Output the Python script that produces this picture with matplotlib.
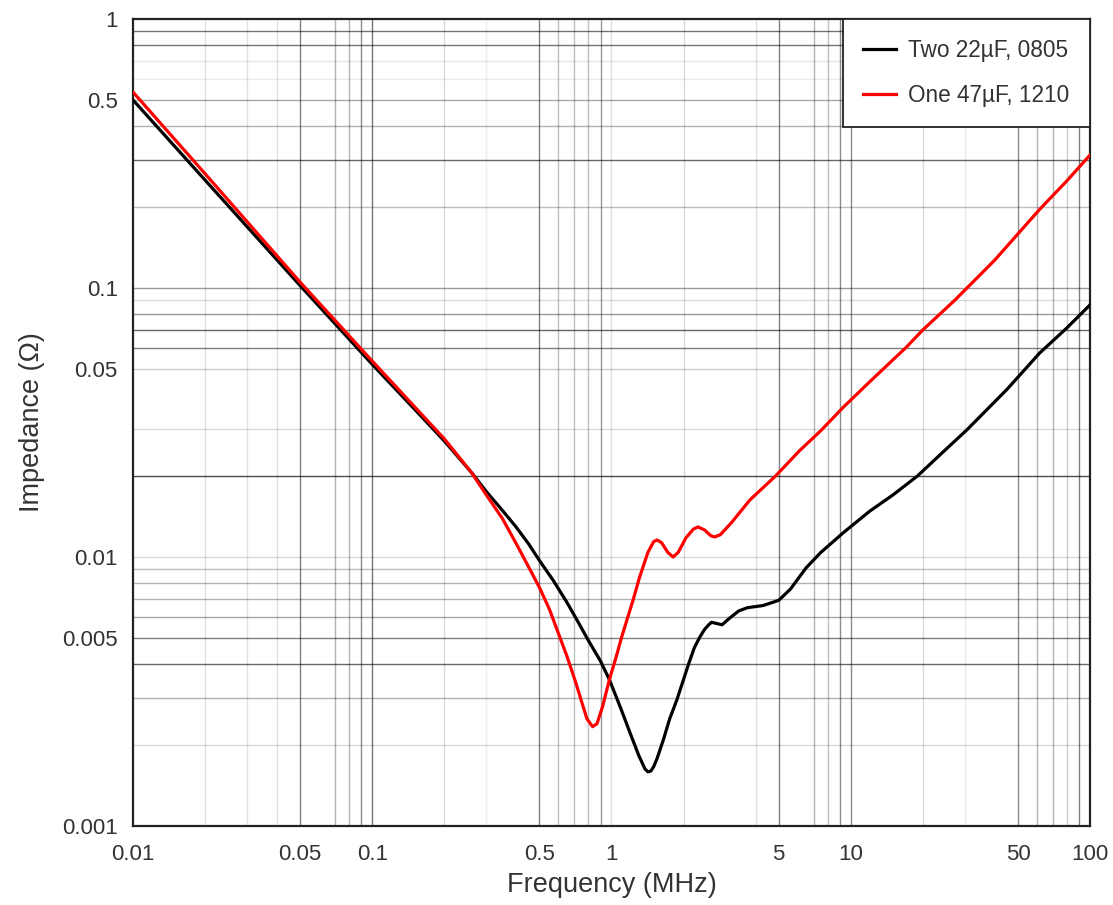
import numpy as np
import matplotlib
matplotlib.use("Agg")
import matplotlib.pyplot as plt

plt.rcParams['font.family'] = ['Liberation Sans', 'DejaVu Sans']

# impedance curves (frequency in MHz, impedance in ohm)
f_two = [0.01, 0.02, 0.05, 0.1, 0.15, 0.2, 0.26, 0.3, 0.35, 0.4, 0.45, 0.5, 0.57,
         0.65, 0.72, 0.8, 0.9, 0.98, 1.05, 1.1, 1.2, 1.3, 1.38, 1.42, 1.46, 1.5,
         1.55, 1.65, 1.75, 1.875, 2.0, 2.1, 2.22, 2.34, 2.45, 2.55, 2.62, 2.75,
         2.9, 3.1, 3.4, 3.7, 4.3, 5.0, 5.6, 6.5, 7.5, 9.3, 12, 15, 19, 24, 30.6,
         45, 61.6, 80, 100]
z_two = [0.50, 0.252, 0.102, 0.052, 0.0355, 0.027, 0.0206, 0.0175, 0.0149, 0.0129,
         0.0112, 0.0097, 0.0082, 0.0068, 0.0058, 0.0049, 0.0041, 0.0035, 0.0030,
         0.0027, 0.0022, 0.00183, 0.00163, 0.00159, 0.0016, 0.00166, 0.00178,
         0.0021, 0.0025, 0.00294, 0.0035, 0.0040, 0.0046, 0.00504, 0.00538, 0.0056,
         0.00572, 0.00566, 0.0056, 0.0059, 0.0063, 0.00648, 0.0066, 0.0069, 0.0076,
         0.0091, 0.0104, 0.0123, 0.0148, 0.0170, 0.020, 0.0243, 0.0297, 0.042,
         0.0573, 0.071, 0.0865]

f_one = [0.01, 0.02, 0.05, 0.1, 0.2, 0.26, 0.3, 0.35, 0.4, 0.45, 0.5, 0.55, 0.6,
         0.65, 0.71, 0.75, 0.79, 0.834, 0.87, 0.92, 0.98, 1.05, 1.1, 1.23, 1.31,
         1.42, 1.5, 1.55, 1.62, 1.72, 1.81, 1.9, 2.05, 2.2, 2.3, 2.45, 2.6, 2.7,
         2.85, 3.17, 3.79, 4.85, 6.1, 7.5, 9.3, 12, 14, 17, 20, 27.2, 40, 61.6,
         80, 100]
z_one = [0.535, 0.266, 0.105, 0.0535, 0.0275, 0.0206, 0.0170, 0.0139, 0.0112,
         0.0092, 0.0077, 0.0064, 0.0052, 0.0043, 0.0034, 0.0029, 0.0025, 0.00234,
         0.0024, 0.0028, 0.0035, 0.0043, 0.0050, 0.0069, 0.0084, 0.0104, 0.0114,
         0.01157, 0.0113, 0.0104, 0.0100, 0.0104, 0.0118, 0.0127, 0.01294, 0.0126,
         0.0120, 0.01187, 0.0121, 0.0134, 0.0163, 0.020, 0.0248, 0.0295, 0.036,
         0.0448, 0.051, 0.060, 0.0698, 0.090, 0.127, 0.196, 0.250, 0.312]

labels = ['Two 22\u00b5F, 0805', 'One 47\u00b5F, 1210']

x_ticks = [0.01, 0.05, 0.1, 0.5, 1, 5, 10, 50, 100]
x_tick_labels = ['0.01', '0.05', '0.1', '0.5', '1', '5', '10', '50', '100']
y_ticks = [0.001, 0.005, 0.01, 0.05, 0.1, 0.5, 1]
y_tick_labels = ['0.001', '0.005', '0.01', '0.05', '0.1', '0.5', '1']

# grid lines as drawn in the original (uneven), with their darkness
v_grid = [0.02, 0.03, 0.04, 0.05, 0.07, 0.08, 0.09, 0.1,
          0.2, 0.3, 0.5, 0.6, 0.7, 0.8, 0.9, 1.0,
          2, 4, 5, 7, 8, 9, 10,
          20, 30, 50, 60, 70, 80, 90]
v_shade = [0.12, 0.12, 0.12, 0.5, 0.3, 0.3, 0.45, 0.55,
           0.15, 0.07, 0.5, 0.25, 0.25, 0.25, 0.4, 0.12,
           0.15, 0.12, 0.5, 0.3, 0.25, 0.45, 0.45,
           0.15, 0.08, 0.45, 0.3, 0.3, 0.2, 0.5]
h_grid = [0.9, 0.8, 0.7, 0.6, 0.5, 0.4, 0.3, 0.2,
          0.1, 0.09, 0.08, 0.07, 0.06, 0.05, 0.03, 0.02,
          0.01, 0.009, 0.008, 0.007, 0.006, 0.005, 0.004, 0.003, 0.002]
h_shade = [0.55, 0.55, 0.1, 0.08, 0.35, 0.3, 0.6, 0.25,
           0.4, 0.15, 0.4, 0.6, 0.5, 0.2, 0.15, 0.7,
           0.15, 0.25, 0.3, 0.3, 0.35, 0.5, 0.6, 0.3, 0.15]

txt = '#333333'

fig = plt.figure(figsize=(11.13, 9.05), dpi=100)
ax = fig.add_axes([0.1195, 0.0873, 0.8598, 0.8917])
ax.set_xscale('log')
ax.set_yscale('log')
ax.set_xlim(0.01, 100)
ax.set_ylim(0.001, 1)

for v, s in zip(v_grid, v_shade):
    ax.axvline(v, color='black', alpha=s, lw=1.0, zorder=1)
for h, s in zip(h_grid, h_shade):
    ax.axhline(h, color='black', alpha=s, lw=1.0, zorder=1)

ax.plot(f_two, z_two, color='black', lw=2.3, label=labels[0], zorder=3)
ax.plot(f_one, z_one, color='#ff0000', lw=2.3, label=labels[1], zorder=3)

ax.set_xticks(x_ticks)
ax.set_xticklabels(x_tick_labels)
ax.set_yticks(y_ticks)
ax.set_yticklabels(y_tick_labels)
ax.minorticks_off()
ax.tick_params(length=0, labelsize=16, labelcolor=txt)
ax.tick_params(axis='x', pad=13)
ax.tick_params(axis='y', pad=11)

for sp in ax.spines.values():
    sp.set_linewidth(1.6)
    sp.set_color('#222222')

ax.set_xlabel('Frequency (MHz)', fontsize=19.5, color=txt, labelpad=5)
ax.set_ylabel('Impedance (\u03a9)', fontsize=19.5, color=txt, labelpad=12)

leg = ax.legend(loc='upper right', borderaxespad=0, fancybox=False,
                fontsize=16.3, handlelength=1.45, labelspacing=0.95,
                borderpad=0.9, handletextpad=0.55, framealpha=1)
leg.get_frame().set_edgecolor('#222222')
leg.get_frame().set_linewidth(1.3)
for t in leg.get_texts():
    t.set_color(txt)

fig.savefig('out.png', dpi=100)
